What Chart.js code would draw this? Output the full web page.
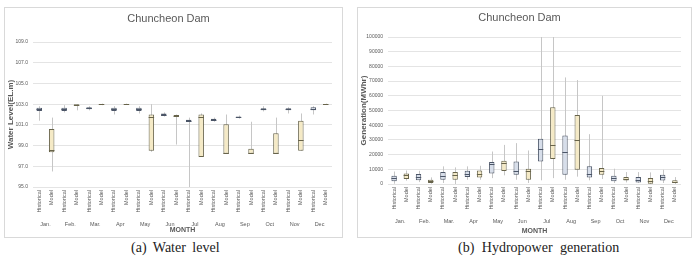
<!DOCTYPE html>
<html>
<head>
<meta charset="utf-8">
<script src="https://cdn.jsdelivr.net/npm/chart.js@4/dist/chart.umd.min.js"></script>
<style>
  body { margin: 0; width: 696px; height: 256px; background: #fff; position: relative; overflow: hidden; }
  .panel { position: absolute; border: 1px solid #d9d9d9; background: #fff; }
  .cap { position: absolute; font-family: 'Liberation Serif', 'DejaVu Serif', serif; font-size: 14px; color: #222; white-space: nowrap; word-spacing: 3px; }
</style>
</head>
<body>
<div class="panel" style="left:4px; top:7px; width:337px; height:229px;"><canvas id="levelChart" width="337" height="229"></canvas></div>
<div class="panel" style="left:357px; top:7px; width:333px; height:229px;"><canvas id="genChart" width="333" height="229"></canvas></div>
<div class="cap" style="left:131px; top:240px;">(a) Water level</div>
<div class="cap" style="left:458px; top:240px; word-spacing: 4px;">(b) Hydropower generation</div>
<script>
const months = ['Jan.', 'Feb.', 'Mar.', 'Apr', 'May', 'Jun', 'Jul', 'Aug', 'Sep', 'Oct', 'Nov', 'Dec'];
const groups = ['Historical', 'Model'];

// [min, q1, median, q3, max] per month
const levelHistorical = [
  [101.4, 102.35, 102.5, 102.65, 102.8], [102.2, 102.35, 102.5, 102.65, 102.9],
  [102.4, 102.5, 102.6, 102.7, 102.8], [102.0, 102.35, 102.5, 102.65, 102.8],
  [102.1, 102.35, 102.5, 102.65, 102.8], [101.8, 101.9, 102.0, 102.1, 102.2],
  [95.0, 101.3, 101.4, 101.5, 101.7], [101.3, 101.4, 101.5, 101.6, 101.7],
  [101.6, 101.7, 101.75, 101.8, 101.9], [102.3, 102.4, 102.5, 102.6, 102.8],
  [102.1, 102.4, 102.5, 102.6, 102.7], [102.0, 102.4, 102.5, 102.7, 102.8]
];
const levelModel = [
  [96.5, 98.35, 98.6, 100.6, 101.7], [102.4, 102.9, 102.95, 103.0, 103.0],
  [102.9, 102.95, 103.0, 103.0, 103.05], [102.95, 103.0, 103.0, 103.0, 103.05],
  [98.4, 98.5, 101.8, 102.0, 103.0], [99.1, 101.85, 101.9, 101.95, 102.0],
  [97.9, 97.9, 101.8, 102.0, 102.1], [98.2, 98.2, 98.3, 101.05, 102.0],
  [98.2, 98.2, 98.3, 98.7, 101.3], [98.2, 98.2, 98.3, 100.2, 101.7],
  [98.5, 98.5, 99.5, 101.4, 102.1], [102.95, 103.0, 103.0, 103.0, 103.05]
];
const genHistorical = [
  [200, 1800, 3800, 5600, 8500], [1300, 2500, 5000, 6800, 9000],
  [700, 2900, 5400, 8100, 12000], [2900, 4700, 6800, 9000, 12000],
  [4000, 7200, 13500, 14900, 22100], [2900, 6300, 8600, 15300, 27800],
  [2500, 15300, 23700, 30700, 100000], [2900, 6300, 22100, 33000, 72500],
  [2500, 4500, 7000, 12000, 33900], [700, 1800, 4100, 5600, 10400],
  [700, 1100, 2500, 4700, 8100], [700, 2300, 4500, 6300, 9700]
];
const genModel = [
  [2300, 3400, 6300, 7200, 9200], [200, 700, 1800, 2900, 4500],
  [0, 2900, 6300, 8100, 11300], [2900, 4500, 7000, 9200, 12400],
  [5900, 8800, 14000, 15800, 26600], [700, 2900, 8600, 10400, 22800],
  [4000, 17000, 26200, 52200, 100000], [5000, 9700, 29600, 47000, 70700],
  [3400, 6300, 9000, 10800, 60000], [1100, 2300, 3600, 4700, 8100],
  [0, 200, 2000, 4100, 7900], [0, 700, 1300, 2500, 4700]
];

const histFill = '#d7deea', histLine = '#4b5567';
const modelFill = '#f5eac6', modelLine = '#67634a';
const textGrey = '#595959';

function interleave(hist, model) {
  const out = [];
  hist.forEach((h, i) => { out.push(h); out.push(model[i]); });
  return out;
}

const boxWhisker = {
  id: 'boxWhisker',
  beforeDatasetsDraw(chart) {
    const ds = chart.data.datasets[0];
    const y = chart.scales.y;
    const ctx = chart.ctx;
    ctx.save();
    ctx.strokeStyle = '#c6c6c6';
    ctx.lineWidth = 1;
    chart.getDatasetMeta(0).data.forEach((bar, i) => {
      const s = ds.stats[i];
      const x = Math.round(bar.x) + 0.5;
      ctx.beginPath();
      ctx.moveTo(x, y.getPixelForValue(s[0]));
      ctx.lineTo(x, y.getPixelForValue(s[4]));
      ctx.stroke();
    });
    ctx.restore();
  },
  afterDatasetsDraw(chart) {
    const ds = chart.data.datasets[0];
    const y = chart.scales.y;
    const ctx = chart.ctx;
    ctx.save();
    ctx.lineWidth = 1;
    chart.getDatasetMeta(0).data.forEach((bar, i) => {
      const s = ds.stats[i];
      const py = Math.round(y.getPixelForValue(s[2])) + 0.5;
      ctx.strokeStyle = ds.borderColor[i];
      ctx.beginPath();
      ctx.moveTo(bar.x - bar.width / 2, py);
      ctx.lineTo(bar.x + bar.width / 2, py);
      ctx.stroke();
    });
    ctx.restore();
  }
};

function makeChart(id, hist, model, cfg) {
  const stats = interleave(hist, model);
  const labels = [];
  months.forEach(() => { labels.push(groups[0]); labels.push(groups[1]); });
  new Chart(document.getElementById(id), {
    type: 'bar',
    data: {
      labels: labels,
      datasets: [{
        data: stats.map(s => [s[1], s[3]]),
        stats: stats,
        backgroundColor: stats.map((s, i) => i % 2 ? modelFill : histFill),
        borderColor: stats.map((s, i) => i % 2 ? modelLine : histLine),
        borderWidth: 1,
        borderSkipped: false,
        barPercentage: 0.44,
        categoryPercentage: 1
      }]
    },
    options: {
      responsive: false,
      animation: false,
      layout: { padding: { top: 0, right: 10, bottom: cfg.padBottom, left: 0 } },
      plugins: {
        legend: { display: false },
        tooltip: { enabled: false },
        title: {
          display: true,
          text: 'Chuncheon Dam',
          color: textGrey,
          font: { size: 11, weight: 'normal', family: "'Liberation Sans Narrow', 'Liberation Sans', sans-serif" },
          padding: cfg.titlePad
        }
      },
      scales: {
        x: {
          weight: 0,
          grid: { display: false, drawTicks: false },
          border: { display: false },
          ticks: { minRotation: 90, maxRotation: 90, autoSkip: false, color: textGrey, font: { size: 5.5 }, padding: 3 },
          afterFit(s) { s.height = 34; }
        },
        x2: {
          type: 'category',
          labels: months,
          position: 'bottom',
          weight: 1,
          offset: true,
          grid: { display: false, drawTicks: false },
          border: { display: false },
          ticks: { autoSkip: false, maxRotation: 0, color: textGrey, font: { size: 5.5 }, padding: 0 },
          title: { display: true, text: 'MONTH', color: textGrey, font: { size: 7, weight: 'bold' }, padding: 0 },
          afterFit(s) { s.height = cfg.x2Height; }
        },
        y: {
          min: cfg.min,
          max: cfg.max,
          grid: { color: '#e4e4e4', drawTicks: false },
          border: { display: false },
          ticks: { stepSize: cfg.step, callback: cfg.fmt, color: textGrey, font: { size: 5 }, padding: 5 },
          title: { display: true, text: cfg.title, color: textGrey, font: { size: 8, weight: 'bold' }, padding: 1 },
          afterFit(s) { s.width = cfg.yWidth; }
        }
      }
    },
    plugins: [boxWhisker]
  });
}

makeChart('levelChart', levelHistorical, levelModel, {
  min: 95, max: 109, step: 2, fmt: v => v.toFixed(1), title: 'Water Level(EL.m)',
  yWidth: 28, x2Height: 13, padBottom: 3, titlePad: { top: 4, bottom: 16.8 }
});

makeChart('genChart', genHistorical, genModel, {
  min: 0, max: 100000, step: 10000, fmt: v => String(v), title: 'Generation(MWhr)',
  yWidth: 30, x2Height: 17, padBottom: 2, titlePad: { top: 3.4, bottom: 12.4 }
});
</script>
</body>
</html>
